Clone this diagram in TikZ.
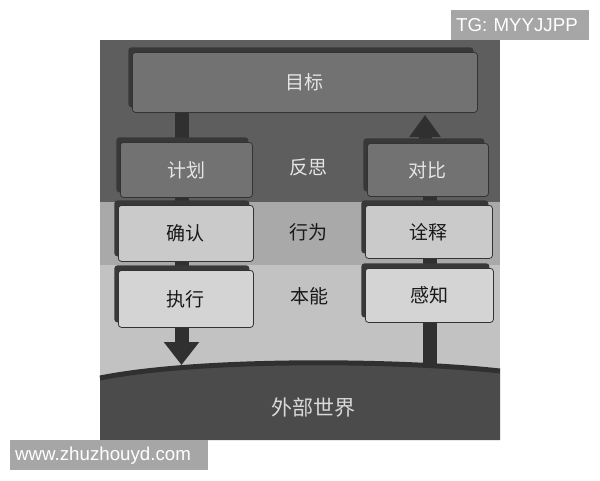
\documentclass[tikz,border=0pt]{standalone}
\usepackage{fontspec}
\setmainfont{Liberation Sans}
\newfontfamily\cjk{Noto Sans CJK SC}
\usetikzlibrary{arrows.meta,shadows,backgrounds}
\definecolor{bandtop}{HTML}{5E5E5E}
\definecolor{bandmid}{HTML}{A9A9A9}
\definecolor{bandlow}{HTML}{C2C2C2}
\definecolor{worldc}{HTML}{4B4B4B}
\definecolor{boxtop}{HTML}{727272}
\definecolor{boxmid}{HTML}{CACACA}
\definecolor{boxlow}{HTML}{D4D4D4}
\definecolor{shaftc}{HTML}{303030}
\definecolor{markc}{HTML}{A6A6A6}
\tikzset{
  box/.style={draw=black!80, line width=0.8pt, rounded corners=3pt, anchor=north west,
    inner sep=0pt, font=\cjk\fontsize{19}{19}\selectfont,
    general shadow={fill=black!78, shadow xshift=-4pt, shadow yshift=5pt}},
  darkbox/.style={box, fill=boxtop, text=white!90!black},
  midbox/.style={box, fill=boxmid, text=black!90},
  lowbox/.style={box, fill=boxlow, text=black!90},
  lvl/.style={font=\cjk\fontsize{19}{19}\selectfont},
  shaft/.style={draw=shaftc, line width=14pt},
  wmark/.style={fill=markc, text=white, font=\fontsize{18.7}{19}\selectfont, inner sep=0pt, anchor=north west}
}
\begin{document}
\begin{tikzpicture}[x=1pt,y=-1pt]
\useasboundingbox (0,0) rectangle (600,480);
% boxes
\node[darkbox, minimum width=345pt, minimum height=60pt] (goal) at (132,52) {目标};
\node[darkbox, minimum width=132pt, minimum height=55pt] (plan) at (120,142) {计划};
\node[darkbox, minimum width=121pt, minimum height=53pt] (comp) at (367,143) {对比};
\node[midbox, minimum width=135pt, minimum height=56pt] (spec) at (118,205) {确认};
\node[midbox, minimum width=127pt, minimum height=53pt] (interp) at (365,205) {诠释};
\node[lowbox, minimum width=135pt, minimum height=57pt] (perf) at (118,270) {执行};
\node[lowbox, minimum width=128pt, minimum height=54pt] (perc) at (365,268) {感知};
% level labels
\node[lvl, text=white!90!black] (refl) at (308,167) {反思};
\node[lvl, text=black!90] (behav) at (308,232) {行为};
\node[lvl, text=black!90] (visc) at (309,296) {本能};
\node[font=\cjk\fontsize{21}{21}\selectfont, text=white!85!black] (world) at (313,408) {外部世界};
% shaft x positions
\coordinate (xl) at (181.5,0);
\coordinate (xr) at (430,0);
\coordinate (tipL) at (181.5,365);
\coordinate (baseR) at (430,368);
\coordinate (tipR) at (425,115);
\begin{scope}[on background layer]
  \fill[bandtop] (100,40) rectangle (500,202);
  \fill[bandmid] (100,202) rectangle (500,265);
  \fill[bandlow] (100,265) rectangle (500,385);
  \fill[worldc] (100,378) .. controls (200,358) and (400,360) .. (500,371) -- (500,440) -- (100,440) -- cycle;
  \draw[shaftc, line width=5pt] (100,378) .. controls (200,358) and (400,360) .. (500,371);
  % left chain
  \draw[shaft] (goal.south -| xl) -- (plan.north -| xl);
  \draw[shaft] (plan.south -| xl) -- (spec.north -| xl);
  \draw[shaft] (spec.south -| xl) -- (perf.north -| xl);
  \draw[shaft, -{Triangle[width=34pt,length=23pt]}] (perf.south -| xl) -- (tipL);
  % right chain
  \draw[shaft] (baseR) -- (perc.south -| xr);
  \draw[shaft] (perc.north -| xr) -- (interp.south -| xr);
  \draw[shaft] (interp.north -| xr) -- (comp.south -| xr);
  \draw[shaft, line width=13pt, -{Triangle[width=30pt,length=22pt]}] (comp.north -| tipR) -- (tipR);
\end{scope}
% watermarks
\node[wmark, minimum width=138pt, minimum height=30pt, text width=138pt, align=left] (tg) at (451,10) {\hspace{5pt}TG: MYYJJPP};
\node[wmark, minimum width=198pt, minimum height=30pt, text width=198pt, align=left] (www) at (10,440) {\hspace{5pt}www.zhuzhouyd.com};
\end{tikzpicture}
\end{document}
